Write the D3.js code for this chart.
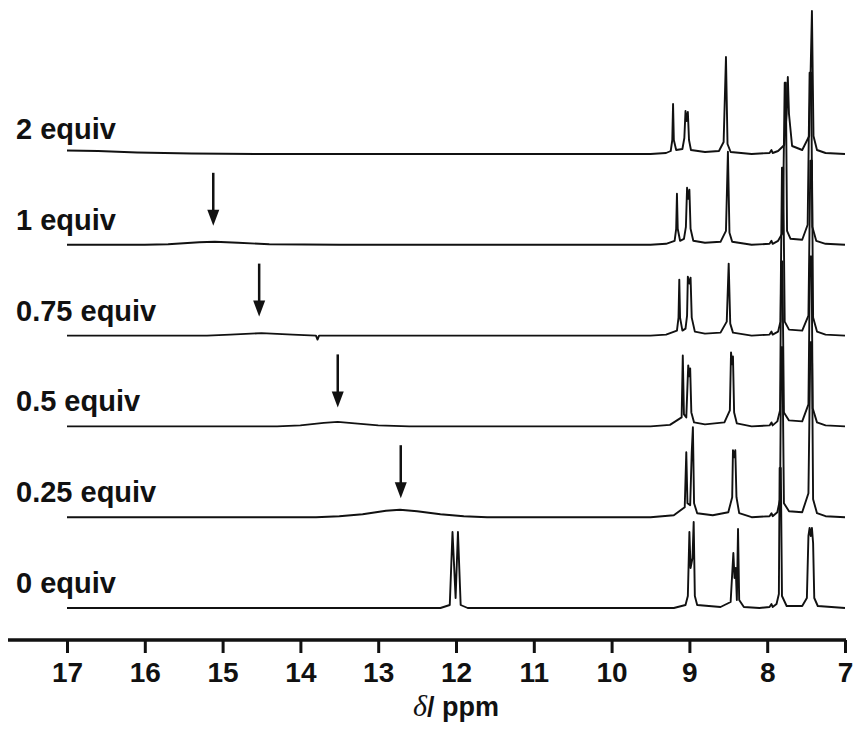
<!DOCTYPE html>
<html>
<head>
<meta charset="utf-8">
<title>1H NMR titration</title>
<script src="https://d3js.org/d3.v7.min.js"></script>
<style>
body { margin: 0; background: #fff; }
svg text { font-family: "Liberation Sans", Arial, sans-serif; font-weight: bold; fill: #111; }
</style>
</head>
<body>
<div id="chart"></div>
<script>
// labels of the stacked spectra, top to bottom
var labels = ["2 equiv", "1 equiv", "0.75 equiv", "0.5 equiv", "0.25 equiv", "0 equiv"];

// spectra: [ppm, intensity]
var trace2 = [[17,3.5],[16.6,3],[16.1,1.5],[15.4,0.5],[14.5,0],[9.5,0],[9.3,1],[9.24,3],[9.22,14],[9.21,50],[9.20,14],[9.17,4],[9.09,5],[9.065,16],[9.05,43],[9.035,33],[9.02,42],[9.005,14],[8.98,4],[8.8,2],[8.62,3],[8.56,12],[8.53,97],[8.51,10],[8.47,2],[8.2,0],[7.97,1],[7.945,4],[7.93,1],[7.86,3],[7.78,9],[7.75,40],[7.735,77],[7.72,40],[7.68,8],[7.55,4],[7.46,18],[7.425,143],[7.405,18],[7.36,4],[7.25,1],[7,0]];
var trace1 = [[17,0],[16,0],[15.7,0.5],[15.3,2.5],[15.1,3],[14.8,2],[14.4,0.5],[13.5,0],[9.5,0],[9.3,1],[9.19,4],[9.17,16],[9.16,51],[9.15,16],[9.12,4],[9.07,6],[9.045,18],[9.03,57],[9.015,46],[9.0,55],[8.985,16],[8.95,4],[8.8,2],[8.6,3],[8.53,14],[8.505,93],[8.485,12],[8.45,3],[8.2,0],[7.97,1],[7.945,4],[7.93,1],[7.86,4],[7.8,12],[7.775,162],[7.76,162],[7.745,14],[7.7,6],[7.55,5],[7.48,20],[7.455,172],[7.435,172],[7.42,18],[7.37,4],[7.25,1],[7,0]];
var trace075 = [[17,0],[15.2,0],[14.9,1],[14.5,2.5],[14.1,1],[13.8,0],[13.78,-4],[13.76,0],[9.5,0],[9.3,1],[9.16,5],[9.14,18],[9.13,56],[9.12,18],[9.09,5],[9.05,7],[9.03,20],[9.02,59],[9.0,52],[8.985,58],[8.97,18],[8.93,4],[8.8,2],[8.6,3],[8.52,14],[8.495,72],[8.475,12],[8.44,3],[8.2,0],[7.97,1],[7.945,4],[7.93,1],[7.86,4],[7.83,14],[7.81,168],[7.795,168],[7.775,14],[7.72,6],[7.55,5],[7.47,20],[7.445,175],[7.425,175],[7.41,18],[7.36,4],[7.25,1],[7,0]];
var trace05 = [[17,0],[14.3,0],[14.0,1],[13.7,3.5],[13.52,4.5],[13.3,3],[13.0,1],[12.6,0],[9.5,0],[9.25,1.5],[9.1,9],[9.085,71],[9.07,12],[9.04,9],[9.015,61],[9.0,50],[8.99,58],[8.975,14],[8.94,4],[8.8,2],[8.55,4],[8.48,16],[8.465,74],[8.45,62],[8.44,70],[8.425,14],[8.39,3],[8.2,0],[7.97,1],[7.945,4],[7.93,1],[7.87,5],[7.835,16],[7.82,165],[7.805,165],[7.785,14],[7.72,6],[7.55,5],[7.47,22],[7.45,170],[7.43,170],[7.415,18],[7.36,4],[7.25,1],[7,0]];
var trace025 = [[17,0],[13.8,0],[13.5,1],[13.2,3],[12.9,6.5],[12.72,7.5],[12.5,6],[12.2,3],[11.9,1],[11.6,0],[9.5,0],[9.2,2],[9.06,10],[9.04,65],[9.025,14],[8.99,12],[8.97,65],[8.955,90],[8.94,14],[8.9,4],[8.7,2],[8.5,5],[8.45,20],[8.44,67],[8.425,60],[8.41,67],[8.395,20],[8.36,4],[8.2,0],[7.97,1],[7.945,4],[7.93,1],[7.87,5],[7.835,18],[7.82,170],[7.805,170],[7.785,14],[7.72,6],[7.55,5],[7.47,24],[7.445,175],[7.425,175],[7.41,18],[7.36,4],[7.25,1],[7,0]];
var trace0 = [[17,0],[12.2,0],[12.08,3],[12.045,76],[12.005,10],[11.975,76],[11.94,3],[11.85,0],[9.2,0],[9.05,3],[9.02,12],[9.0,76],[8.985,40],[8.96,50],[8.945,86],[8.93,12],[8.9,3],[8.6,1],[8.47,6],[8.435,55],[8.42,30],[8.405,40],[8.39,8],[8.375,79],[8.36,8],[8.3,1],[8.1,0],[7.97,1],[7.945,4],[7.93,1],[7.88,4],[7.85,14],[7.84,140],[7.825,140],[7.81,12],[7.75,2],[7.55,2],[7.49,10],[7.47,72],[7.455,80],[7.44,72],[7.425,80],[7.41,65],[7.395,10],[7.35,2],[7,0]];
var traces = [trace2, trace1, trace075, trace05, trace025, trace0];

// positions of the arrows marking the broad NH signal, one per trace (null = none)
var arrowPpm = [null, 15.12, 14.53, 13.52, 12.71, null];

var tickValues = [17, 16, 15, 14, 13, 12, 11, 10, 9, 8, 7];

var width = 859, height = 731;

var svg = d3.select("#chart").append("svg")
    .attr("width", width)
    .attr("height", height);

var x = d3.scaleLinear()
    .domain([17, 7])
    .range([67, 845]);

// baseline of each trace
var base = d3.scalePoint()
    .domain(labels)
    .range([154, 608]);

// intensity -> pixels above baseline
var y = d3.scaleLinear()
    .domain([0, 100])
    .range([0, 100]);

var line = d3.line()
    .x(function(d) { return x(d[0]); })
    .y(function(d) { return -y(d[1]); })
    .curve(d3.curveLinear);

traces.forEach(function(t, i) {
  var g = svg.append("g")
      .attr("transform", "translate(0," + base(labels[i]) + ")");
  g.append("path")
      .datum(t)
      .attr("d", line)
      .attr("fill", "none")
      .attr("stroke", "#111")
      .attr("stroke-width", 1.9)
      .attr("stroke-linejoin", "round");

  svg.append("text")
      .attr("x", 16)
      .attr("y", base(labels[i]) - 15)
      .style("font-size", "29px")
      .text(labels[i]);

  if (arrowPpm[i] != null) {
    var ax = x(arrowPpm[i]), ab = base(labels[i]) - 19;
    svg.append("line")
        .attr("x1", ax).attr("x2", ax)
        .attr("y1", ab - 53).attr("y2", ab - 12)
        .attr("stroke", "#111")
        .attr("stroke-width", 2.5);
    svg.append("path")
        .attr("d", "M" + (ax - 6) + "," + (ab - 16) + "L" + (ax + 6) + "," + (ab - 16) + "L" + ax + "," + ab + "Z")
        .attr("fill", "#111");
  }
});

// x axis
var axisY = 640;
svg.append("line")
    .attr("x1", 8).attr("x2", x(7) + 1)
    .attr("y1", axisY).attr("y2", axisY)
    .attr("stroke", "#111")
    .attr("stroke-width", 3.5);

var axis = svg.append("g")
    .attr("transform", "translate(0," + axisY + ")")
    .call(d3.axisBottom(x).tickValues(tickValues).tickSize(13).tickPadding(9).tickFormat(d3.format("d")));
axis.select(".domain").remove();
axis.selectAll(".tick line").attr("stroke", "#111").attr("stroke-width", 3);
axis.selectAll(".tick text")
    .style("font-size", "28px")
    .style("font-family", "'Liberation Sans', Arial, sans-serif")
    .style("font-weight", "bold")
    .attr("fill", "#111");

var title = svg.append("text")
    .attr("x", x(12))
    .attr("y", 716)
    .attr("text-anchor", "middle")
    .style("font-size", "27px");
title.append("tspan")
    .style("font-family", "'Liberation Serif', 'Times New Roman', serif")
    .style("font-style", "italic")
    .style("font-weight", "normal")
    .style("font-size", "30px")
    .text("δ");
title.append("tspan").text("/ ppm");
</script>
</body>
</html>
